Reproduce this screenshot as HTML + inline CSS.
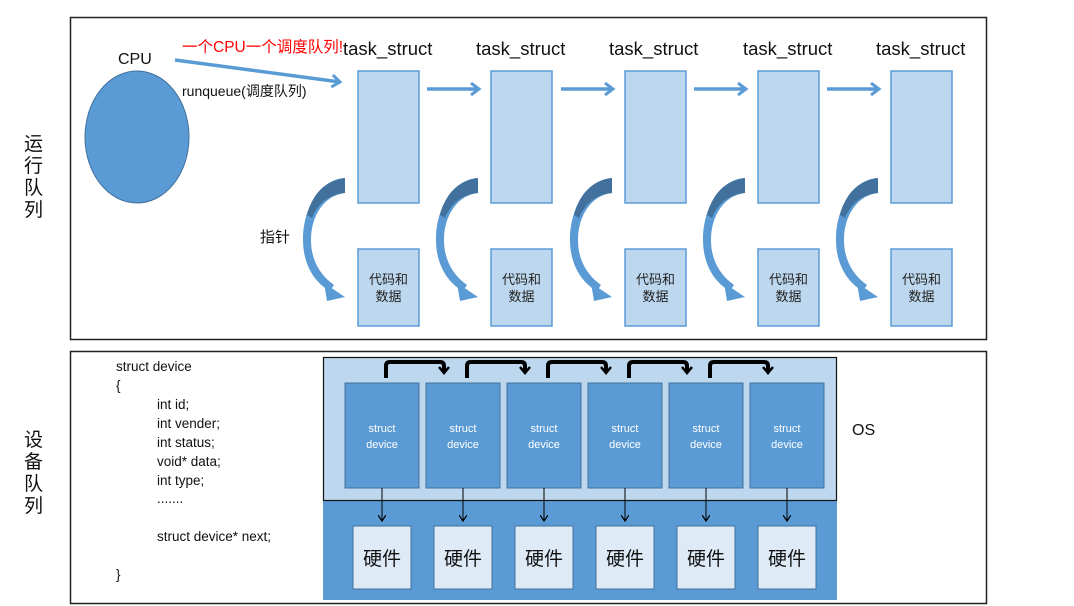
<!DOCTYPE html>
<html><head><meta charset="utf-8"><style>
html,body{margin:0;padding:0;background:#fff;}
svg{display:block;font-family:"Liberation Sans","Noto Sans CJK SC",sans-serif;}
</style></head><body>
<svg width="1074" height="606" viewBox="0 0 1074 606" xmlns="http://www.w3.org/2000/svg">
<defs>
<marker id="ah" markerWidth="8" markerHeight="8" refX="6" refY="4" orient="auto" markerUnits="userSpaceOnUse"><path d="M0,0 L6,4 L0,8" fill="none" stroke="#000" stroke-width="1.2"/></marker>
<marker id="bh" markerWidth="14" markerHeight="14" refX="9" refY="7" orient="auto" markerUnits="userSpaceOnUse"><path d="M1,1 L9,7 L1,13" fill="none" stroke="#5b9bd5" stroke-width="3"/></marker>
<marker id="kh" markerWidth="12" markerHeight="12" refX="6" refY="6" orient="auto" markerUnits="userSpaceOnUse"><path d="M1,1 L7,6 L1,11" fill="none" stroke="#000" stroke-width="2.5"/></marker>
<g id="crv"><path d="M345,178 C318,180 303,210 303,240 C303,265 315,283 330,291 L334,285 C320,275 311,260 311,240 C311,215 325,195 345,193 Z" fill="#5b9bd5"/><path d="M345,178 C325,180 312,195 307,215 L312,218 C318,203 330,194 345,193 Z" fill="#41719c"/><path d="M324,283 L345,297 L327,301 Z" fill="#5b9bd5"/></g>
</defs>
<rect x="70.5" y="17.5" width="916" height="322" fill="none" stroke="#222" stroke-width="1.5"/>
<rect x="70.5" y="351.5" width="916" height="252" fill="none" stroke="#222" stroke-width="1.5"/>
<text font-size="19" fill="#111"><tspan x="24" y="150">运</tspan><tspan x="24" y="172">行</tspan><tspan x="24" y="194">队</tspan><tspan x="24" y="216">列</tspan></text>
<text font-size="19" fill="#111"><tspan x="24" y="446">设</tspan><tspan x="24" y="468">备</tspan><tspan x="24" y="490">队</tspan><tspan x="24" y="512">列</tspan></text>
<ellipse cx="137" cy="137" rx="52" ry="66" fill="#5b9bd5" stroke="#41719c"/>
<text x="118" y="64" font-size="16" fill="#111">CPU</text>
<text x="182" y="52" font-size="15.5" fill="#ff0000">一个CPU一个调度队列!</text>
<text x="182" y="96" font-size="14" fill="#111">runqueue(调度队列)</text>
<line x1="175" y1="60" x2="340" y2="82" stroke="#5b9bd5" stroke-width="3.5" marker-end="url(#bh)"/>
<text x="260" y="242" font-size="15" fill="#111">指针</text>
<g font-size="18.5" fill="#111">
<text x="343" y="55">task_struct</text><text x="476" y="55">task_struct</text><text x="609" y="55">task_struct</text><text x="743" y="55">task_struct</text><text x="876" y="55">task_struct</text>
</g>
<g fill="#bdd7ee" stroke="#5b9bd5" stroke-width="1.5">
<rect x="358" y="71" width="61" height="132"/><rect x="491" y="71" width="61" height="132"/><rect x="625" y="71" width="61" height="132"/><rect x="758" y="71" width="61" height="132"/><rect x="891" y="71" width="61" height="132"/>
<rect x="358" y="249" width="61" height="77"/><rect x="491" y="249" width="61" height="77"/><rect x="625" y="249" width="61" height="77"/><rect x="758" y="249" width="61" height="77"/><rect x="891" y="249" width="61" height="77"/>
</g>
<g font-size="13" fill="#222" text-anchor="middle">
<text x="388.5" y="284">代码和</text><text x="388.5" y="301">数据</text>
<text x="521.5" y="284">代码和</text><text x="521.5" y="301">数据</text>
<text x="655.5" y="284">代码和</text><text x="655.5" y="301">数据</text>
<text x="788.5" y="284">代码和</text><text x="788.5" y="301">数据</text>
<text x="921.5" y="284">代码和</text><text x="921.5" y="301">数据</text>
</g>
<g stroke="#5b9bd5" stroke-width="3.5">
<line x1="427" y1="89" x2="479" y2="89" marker-end="url(#bh)"/>
<line x1="561" y1="89" x2="613" y2="89" marker-end="url(#bh)"/>
<line x1="694" y1="89" x2="746" y2="89" marker-end="url(#bh)"/>
<line x1="827" y1="89" x2="879" y2="89" marker-end="url(#bh)"/>
</g>
<use href="#crv"/><use href="#crv" x="133"/><use href="#crv" x="267"/><use href="#crv" x="400"/><use href="#crv" x="533"/>
<g font-size="13.5" fill="#111">
<text x="116" y="371">struct device</text><text x="116" y="390">{</text>
<text x="157" y="409">int id;</text><text x="157" y="428">int vender;</text><text x="157" y="447">int status;</text><text x="157" y="466">void* data;</text><text x="157" y="485">int type;</text><text x="157" y="503">.......</text>
<text x="157" y="541">struct device* next;</text><text x="116" y="579">}</text>
</g>
<rect x="323" y="500" width="514" height="100" fill="#5b9bd5"/>
<rect x="323.5" y="357.5" width="513" height="143" fill="#bdd7ee" stroke="#111" stroke-width="1.2"/>
<text x="852" y="435" font-size="16" fill="#111">OS</text>
<g id="dv">
<rect x="345" y="383" width="74" height="105" fill="#5b9bd5" stroke="#41719c"/>
<text x="382" y="432" font-size="11" fill="#fff" text-anchor="middle">struct</text>
<text x="382" y="448" font-size="11" fill="#fff" text-anchor="middle">device</text>
<line x1="382" y1="488" x2="382" y2="521" stroke="#000" stroke-width="1" marker-end="url(#ah)"/>
<rect x="353" y="526" width="58" height="63" fill="#deebf7" stroke="#41719c"/>
<text x="382" y="565" font-size="19" fill="#111" text-anchor="middle">硬件</text>
</g>
<use href="#dv" x="81"/><use href="#dv" x="162"/><use href="#dv" x="243"/><use href="#dv" x="324"/><use href="#dv" x="405"/>
<g fill="none" stroke="#000" stroke-width="4">
<path d="M386,378 L386,366 Q386,362 390,362 L440,362 Q444,362 444,366 L444,372" marker-end="url(#kh)"/>
<path d="M467,378 L467,366 Q467,362 471,362 L521,362 Q525,362 525,366 L525,372" marker-end="url(#kh)"/>
<path d="M548,378 L548,366 Q548,362 552,362 L602,362 Q606,362 606,366 L606,372" marker-end="url(#kh)"/>
<path d="M629,378 L629,366 Q629,362 633,362 L683,362 Q687,362 687,366 L687,372" marker-end="url(#kh)"/>
<path d="M710,378 L710,366 Q710,362 714,362 L764,362 Q768,362 768,366 L768,372" marker-end="url(#kh)"/>
</g>
</svg>
</body></html>
